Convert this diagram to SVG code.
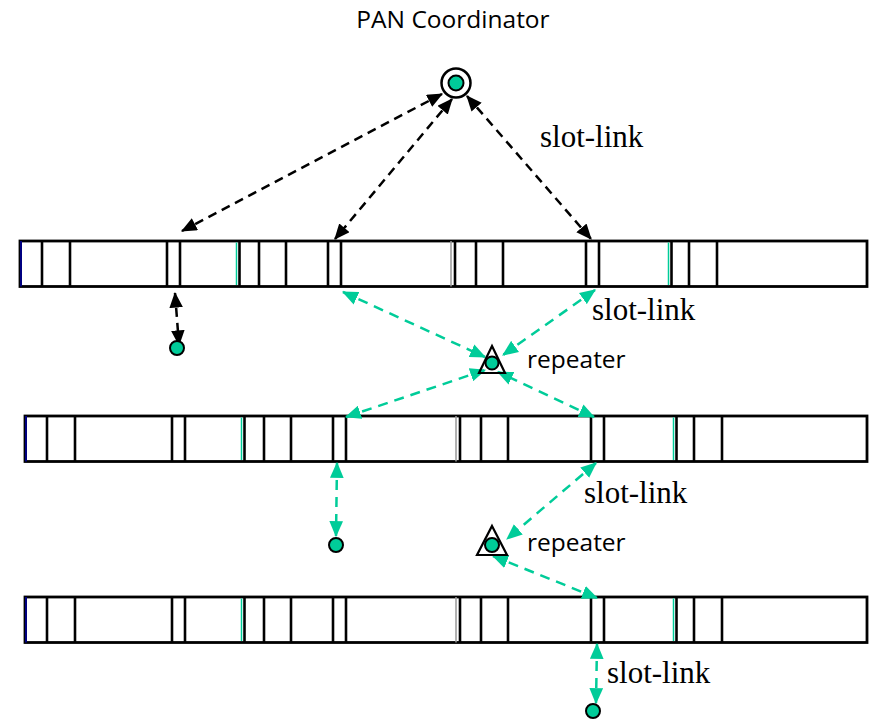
<svg xmlns="http://www.w3.org/2000/svg" xmlns:xlink="http://www.w3.org/1999/xlink" width="869" height="721" viewBox="0 0 869 721">
  <style>
    .frame { fill: #fff; stroke: #000; stroke-width: 2.8; }
    .div { stroke: #000; stroke-width: 2.6; }
    .shade { stroke: #999; stroke-width: 1.5; }
    .beacon { stroke: #000080; stroke-width: 2; }
    .mark { stroke: #00cc99; stroke-width: 1.5; }
    .blk { fill: none; stroke: #000; stroke-width: 2.5; stroke-dasharray: 9 6; marker-start: url(#hb); marker-end: url(#hb); }
    .grn { fill: none; stroke: #00cc99; stroke-width: 2.5; stroke-dasharray: 10 7; marker-start: url(#hg); marker-end: url(#hg); }
    .dev { fill: #00cc99; stroke: #000; stroke-width: 2; }
    .rep { fill: none; stroke: #000; stroke-width: 2.2; stroke-linejoin: miter; }
    .sans { font-family: "Open Sans", "DejaVu Sans", sans-serif; font-size: 24.5px; fill: #000; }
    .serif { font-family: "Liberation Serif", "Times New Roman", serif; font-size: 31px; fill: #000; }
  </style>
  <defs>
    <marker id="hb" viewBox="0 0 14 12" refX="13" refY="6" markerWidth="16" markerHeight="13.5" markerUnits="userSpaceOnUse" orient="auto-start-reverse">
      <path d="M0,0 L14,6 L0,12 z" fill="#000"/>
    </marker>
    <marker id="hg" viewBox="0 0 14 12" refX="13" refY="6" markerWidth="16" markerHeight="14" markerUnits="userSpaceOnUse" orient="auto-start-reverse">
      <path d="M0,0 L14,6 L0,12 z" fill="#00cc99"/>
    </marker>
    <!-- slot dividers of one superframe strip; origin at the strip's top-left corner -->
    <g id="slots">
      <line class="beacon" x1="1" y1="0" x2="1" y2="45.5"/>
      <g class="div">
        <line x1="22" y1="0" x2="22" y2="45.5"/>
        <line x1="50" y1="0" x2="50" y2="45.5"/>
        <line x1="147" y1="0" x2="147" y2="45.5"/>
        <line x1="160" y1="0" x2="160" y2="45.5"/>
        <line x1="219.5" y1="0" x2="219.5" y2="45.5"/>
        <line x1="239" y1="0" x2="239" y2="45.5"/>
        <line x1="266" y1="0" x2="266" y2="45.5"/>
        <line x1="308" y1="0" x2="308" y2="45.5"/>
        <line x1="321" y1="0" x2="321" y2="45.5"/>
        <line x1="435" y1="0" x2="435" y2="45.5"/>
        <line x1="456" y1="0" x2="456" y2="45.5"/>
        <line x1="483" y1="0" x2="483" y2="45.5"/>
        <line x1="566" y1="0" x2="566" y2="45.5"/>
        <line x1="579" y1="0" x2="579" y2="45.5"/>
        <line x1="651.5" y1="0" x2="651.5" y2="45.5"/>
        <line x1="669" y1="0" x2="669" y2="45.5"/>
        <line x1="697" y1="0" x2="697" y2="45.5"/>
      </g>
      <line class="shade" x1="431" y1="0" x2="431" y2="45.5"/>
      <line class="mark" x1="216.5" y1="1.5" x2="216.5" y2="44"/>
      <line class="mark" x1="648.5" y1="1.5" x2="648.5" y2="44"/>
    </g>
  </defs>

  <!-- timelines -->
  <g id="timeline-1">
    <rect class="frame" x="20" y="241" width="847" height="45.5"/>
    <use xlink:href="#slots" x="20" y="241"/>
  </g>
  <g id="timeline-2">
    <rect class="frame" x="25" y="416" width="842" height="45.5"/>
    <use xlink:href="#slots" x="25" y="416"/>
  </g>
  <g id="timeline-3">
    <rect class="frame" x="25" y="597" width="842" height="45.5"/>
    <use xlink:href="#slots" x="25" y="597"/>
  </g>

  <!-- links -->
  <g id="connectors">
    <line class="blk" x1="442" y1="94" x2="182" y2="231"/>
    <line class="blk" x1="452" y1="99" x2="335" y2="239"/>
    <line class="blk" x1="467" y1="96" x2="591" y2="239"/>
    <line class="blk" x1="175" y1="293" x2="179" y2="345"/>

    <line class="grn" x1="343" y1="292" x2="485" y2="357"/>
    <line class="grn" x1="595" y1="290" x2="503" y2="355"/>
    <line class="grn" x1="346" y1="417" x2="485" y2="370"/>
    <line class="grn" x1="594" y1="417" x2="498" y2="372"/>
    <line class="grn" x1="596" y1="463" x2="507" y2="539"/>
    <line class="grn" x1="337" y1="463" x2="336" y2="536"/>
    <line class="grn" x1="493" y1="556" x2="597" y2="598"/>
    <line class="grn" x1="597" y1="644" x2="596" y2="703"/>
  </g>

  <g id="pan-coordinator">
    <circle cx="456" cy="83" r="14.5" fill="#fff" stroke="#000" stroke-width="2.5"/>
    <circle class="dev" cx="456" cy="83" r="7.5"/>
    <text class="sans" x="453" y="28" text-anchor="middle">PAN Coordinator</text>
  </g>

  <g id="repeater-1">
    <path class="rep" d="M492,346 L505,373 L479,373 Z"/>
    <circle class="dev" cx="492" cy="363" r="6.5"/>
    <text class="sans" x="527" y="368">repeater</text>
  </g>
  <g id="repeater-2">
    <path class="rep" d="M492,526 L507,555 L477,555 Z"/>
    <circle class="dev" cx="492" cy="545" r="7"/>
    <text class="sans" x="527" y="551">repeater</text>
  </g>

  <g id="device-1"><circle class="dev" cx="177" cy="348" r="7"/></g>
  <g id="device-2"><circle class="dev" cx="336" cy="545" r="7"/></g>
  <g id="device-3"><circle class="dev" cx="593" cy="711" r="7"/></g>

  <g id="labels">
    <text class="serif" x="540" y="147">slot-link</text>
    <text class="serif" x="592" y="320">slot-link</text>
    <text class="serif" x="584" y="503">slot-link</text>
    <text class="serif" x="607" y="683">slot-link</text>
  </g>
</svg>
